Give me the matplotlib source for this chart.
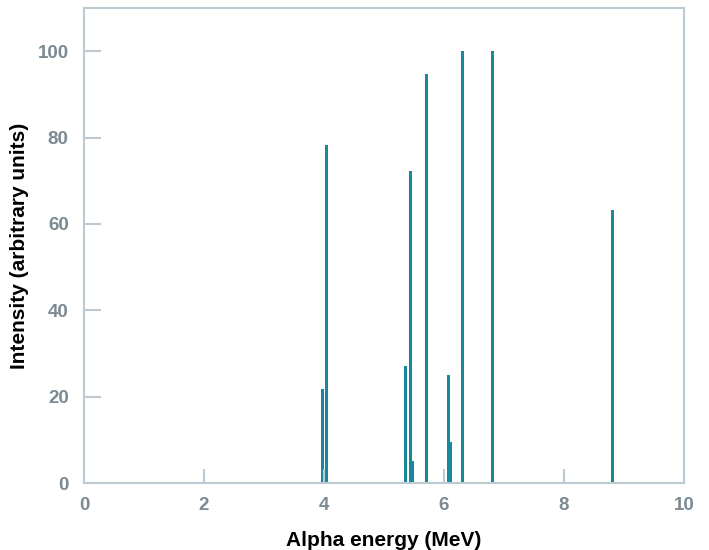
import matplotlib.pyplot as plt

# Th-232 decay chain alpha lines
energies = [3.947, 4.012, 5.340, 5.423, 5.449, 5.685, 6.051, 6.090, 6.288, 6.778, 8.785]
intensities = [21.7, 78.2, 27.2, 72.2, 5.1, 94.6, 25.1, 9.6, 100.0, 100.0, 63.3]
x_ticks = [0, 2, 4, 6, 8, 10]
y_ticks = [0, 20, 40, 60, 80, 100]

bar_color = "#17899a"
spine_color = "#bccbd3"
label_gray = "#7b8a93"

plt.rcParams["font.family"] = ["Liberation Sans", "DejaVu Sans"]

fig = plt.figure(figsize=(7.09, 5.5), dpi=100)
ax = fig.add_axes([0.1185, 0.1218, 0.846, 0.8637])

# lines drawn from their energy, a bit wide so they show up
ax.bar(energies, intensities, width=0.05, align="edge", color=bar_color, linewidth=0)

ax.set_xlim(0, 10)
ax.set_ylim(0, 110)
ax.set_xticks(x_ticks)
ax.set_yticks(y_ticks)

for s in ax.spines.values():
    s.set_color(spine_color)
    s.set_linewidth(1.5)

ax.tick_params(axis="x", direction="in", length=10, width=1.5, color=spine_color,
               labelcolor=label_gray, labelsize=13.5, pad=10)
ax.tick_params(axis="y", direction="in", length=12, width=1.5, color=spine_color,
               labelcolor=label_gray, labelsize=13.5, pad=11)
for lbl in ax.get_xticklabels() + ax.get_yticklabels():
    lbl.set_fontweight("bold")

ax.set_xlabel("Alpha energy (MeV)", fontsize=15, fontweight="bold", labelpad=12)
ax.set_ylabel("Intensity (arbitrary units)", fontsize=15, fontweight="bold", labelpad=6)

fig.savefig("out.png", dpi=100)
